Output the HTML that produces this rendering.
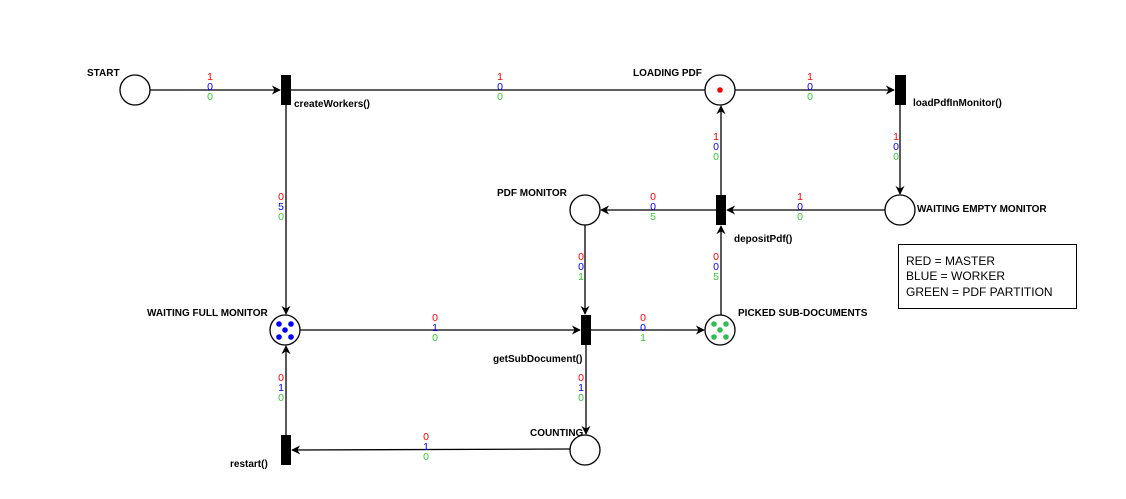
<!DOCTYPE html>
<html><head><meta charset="utf-8"><style>
body{margin:0;background:#fff;}
svg text{font-family:"Liberation Sans",Arial,sans-serif;}
.l{font-size:10px;font-weight:bold;fill:#000;}
.n{font-size:10.5px;text-anchor:middle;}
.r{fill:#ff0000}.b{fill:#0000ff}.g{fill:#33cc33}
</style></head><body>
<svg width="1126" height="494" viewBox="0 0 1126 494" xmlns="http://www.w3.org/2000/svg">
<defs><marker id="a" viewBox="0 0 10 10" refX="9" refY="5" markerWidth="9" markerHeight="9" orient="auto" markerUnits="userSpaceOnUse"><path d="M0,0 L10,5 L0,10 L3,5 z" fill="#000"/></marker></defs>
<g stroke="#000" stroke-width="1.3" fill="none">
<line x1="150" y1="90" x2="280" y2="90" marker-end="url(#a)"/>
<line x1="291" y1="90" x2="705" y2="90"/>
<line x1="735" y1="90" x2="894" y2="90" marker-end="url(#a)"/>
<line x1="900" y1="105" x2="900" y2="194" marker-end="url(#a)"/>
<line x1="885" y1="210" x2="727" y2="210" marker-end="url(#a)"/>
<line x1="721" y1="195" x2="721" y2="106" marker-end="url(#a)"/>
<line x1="716" y1="210" x2="601" y2="210" marker-end="url(#a)"/>
<line x1="721" y1="315" x2="721" y2="226" marker-end="url(#a)"/>
<line x1="585" y1="225" x2="585" y2="314" marker-end="url(#a)"/>
<line x1="286" y1="105" x2="286" y2="314" marker-end="url(#a)"/>
<line x1="300" y1="330" x2="580" y2="330" marker-end="url(#a)"/>
<line x1="591" y1="330" x2="704" y2="330" marker-end="url(#a)"/>
<line x1="586" y1="345" x2="586" y2="434" marker-end="url(#a)"/>
<line x1="570" y1="449" x2="292" y2="450" marker-end="url(#a)"/>
<line x1="286" y1="435" x2="286" y2="346" marker-end="url(#a)"/>
<circle cx="135" cy="90" r="15" fill="#fff"/>
<circle cx="720" cy="90" r="15" fill="#fff"/>
<circle cx="900" cy="210" r="15" fill="#fff"/>
<circle cx="585" cy="210" r="15" fill="#fff"/>
<circle cx="285" cy="330" r="15" fill="#fff"/>
<circle cx="720" cy="330" r="15" fill="#fff"/>
<circle cx="585" cy="450" r="15" fill="#fff"/>
</g>
<g fill="#000">
<rect x="281" y="75" width="10" height="30"/>
<rect x="895" y="75" width="11" height="30"/>
<rect x="716" y="195" width="10" height="30"/>
<rect x="581" y="315" width="10" height="30"/>
<rect x="281" y="435" width="10" height="30"/>
</g>
<circle cx="720" cy="90" r="2.8" fill="#f00"/>
<g fill="#0000ff"><circle cx="279" cy="324" r="2.8"/><circle cx="291" cy="324" r="2.8"/><circle cx="285" cy="330" r="2.8"/><circle cx="279" cy="337" r="2.8"/><circle cx="291" cy="337" r="2.8"/></g>
<g fill="#33bb55"><circle cx="714" cy="324" r="2.8"/><circle cx="726" cy="324" r="2.8"/><circle cx="720" cy="330" r="2.8"/><circle cx="714" cy="337" r="2.8"/><circle cx="726" cy="337" r="2.8"/></g>
<text class="l" x="87" y="76">START</text>
<text class="l" x="294" y="107">createWorkers()</text>
<text class="l" x="633" y="76">LOADING PDF</text>
<text class="l" x="913" y="106">loadPdfInMonitor()</text>
<text class="l" x="917" y="212">WAITING EMPTY MONITOR</text>
<text class="l" x="497" y="196">PDF MONITOR</text>
<text class="l" x="734" y="242">depositPdf()</text>
<text class="l" x="147" y="316">WAITING FULL MONITOR</text>
<text class="l" x="738" y="316">PICKED SUB-DOCUMENTS</text>
<text class="l" x="493" y="362">getSubDocument()</text>
<text class="l" x="530" y="436">COUNTING</text>
<text class="l" x="230" y="467">restart()</text>
<g class="n">
<text x="210" y="80" class="r">1</text><text x="210" y="90" class="b">0</text><text x="210" y="100" class="g">0</text>
<text x="500" y="80" class="r">1</text><text x="500" y="90" class="b">0</text><text x="500" y="100" class="g">0</text>
<text x="810" y="80" class="r">1</text><text x="810" y="90" class="b">0</text><text x="810" y="100" class="g">0</text>
<text x="896" y="140" class="r">1</text><text x="896" y="150" class="b">0</text><text x="896" y="160" class="g">0</text>
<text x="716" y="140" class="r">1</text><text x="716" y="150" class="b">0</text><text x="716" y="160" class="g">0</text>
<text x="800" y="200" class="r">1</text><text x="800" y="210" class="b">0</text><text x="800" y="220" class="g">0</text>
<text x="653" y="200" class="r">0</text><text x="653" y="210" class="b">0</text><text x="653" y="220" class="g">5</text>
<text x="281" y="200" class="r">0</text><text x="281" y="210" class="b">5</text><text x="281" y="220" class="g">0</text>
<text x="581" y="260" class="r">0</text><text x="581" y="270" class="b">0</text><text x="581" y="280" class="g">1</text>
<text x="716" y="260" class="r">0</text><text x="716" y="270" class="b">0</text><text x="716" y="280" class="g">5</text>
<text x="435" y="321" class="r">0</text><text x="435" y="331" class="b">1</text><text x="435" y="341" class="g">0</text>
<text x="643" y="321" class="r">0</text><text x="643" y="331" class="b">0</text><text x="643" y="341" class="g">1</text>
<text x="281" y="381" class="r">0</text><text x="281" y="391" class="b">1</text><text x="281" y="401" class="g">0</text>
<text x="581" y="381" class="r">0</text><text x="581" y="391" class="b">1</text><text x="581" y="401" class="g">0</text>
<text x="426" y="440" class="r">0</text><text x="426" y="450" class="b">1</text><text x="426" y="460" class="g">0</text>
</g>
<rect x="898.5" y="244.5" width="178" height="64" fill="#fff" stroke="#000" stroke-width="1"/>
<g font-size="12" fill="#000">
<text x="906" y="265">RED = MASTER</text>
<text x="906" y="280">BLUE = WORKER</text>
<text x="906" y="296">GREEN = PDF PARTITION</text>
</g>
</svg>
</body></html>
